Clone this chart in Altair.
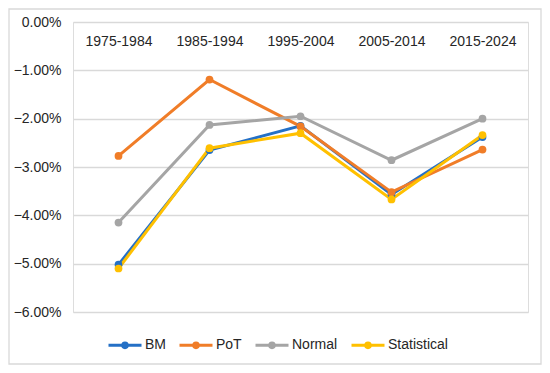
import altair as alt
import pandas as pd

periods = ["1975-1984", "1985-1994", "1995-2004", "2005-2014", "2015-2024"]
series_names = ["BM", "PoT", "Normal", "Statistical"]
bm = [-0.0502, -0.0265, -0.0215, -0.0357, -0.0238]
pot = [-0.0277, -0.0119, -0.0216, -0.0352, -0.0264]
normal = [-0.0415, -0.0213, -0.0195, -0.0286, -0.0200]
statistical = [-0.0510, -0.0261, -0.0230, -0.0367, -0.0234]
y_ticks = [0.0, -0.01, -0.02, -0.03, -0.04, -0.05, -0.06]
colors = ["#2470C6", "#F07D28", "#A5A5A5", "#FFC000"]

rows = []
for name, vals in zip(series_names, [bm, pot, normal, statistical]):
    for p, v in zip(periods, vals):
        rows.append({"period": p, "series": name, "value": v})
df = pd.DataFrame(rows)

font = "Liberation Sans"
W, H = 455, 290

sym = "M-1,0L1,0M0.14,0A0.14,0.14,0,1,1,-0.14,0A0.14,0.14,0,1,1,0.14,0Z"

lines = alt.Chart(df).mark_line(
    strokeWidth=3,
    point=alt.OverlayMarkDef(filled=True, size=60),
).encode(
    x=alt.X("period:N", sort=periods, title=None,
            scale=alt.Scale(paddingInner=0, paddingOuter=0),
            axis=alt.Axis(orient="top", domain=False, ticks=False, grid=False,
                          labelAngle=0, labelPadding=-26, labelFontSize=14,
                          labelFont=font, labelColor="#262626")),
    y=alt.Y("value:Q", title=None,
            scale=alt.Scale(domain=[-0.06, 0], nice=False, zero=False),
            axis=alt.Axis(values=y_ticks, format=".2%", domain=False, ticks=False,
                          labelPadding=12, labelFontSize=14, labelFont=font,
                          labelColor="#262626", gridColor="#D9D9D9", gridWidth=1.3)),
    color=alt.Color("series:N", sort=series_names,
                    scale=alt.Scale(domain=series_names, range=colors),
                    legend=alt.Legend(orient="none", legendX=34, legendY=305,
                                      direction="horizontal", title=None,
                                      symbolType=sym, symbolSize=1089,
                                      symbolStrokeWidth=3, labelFontSize=14,
                                      labelFont=font, labelColor="#262626",
                                      columnPadding=7, labelOffset=2)),
    order=alt.Order("series:N"),
)

border = alt.Chart(alt.Data(values=[{}])).mark_rect(
    fill=None, stroke="#D9D9D9", strokeWidth=1.3
).encode(
    x=alt.value(-64), x2=alt.value(W + 13), y=alt.value(-13), y2=alt.value(H + 52)
)

chart = alt.layer(border, lines).properties(
    width=W, height=H,
    padding={"left": 65, "top": 14, "right": 14, "bottom": 53},
    autosize=alt.AutoSizeParams(type="none"),
).configure_view(stroke=None).configure(background="white")

chart.save("out.html", embed_options={"renderer": "svg", "actions": False})
